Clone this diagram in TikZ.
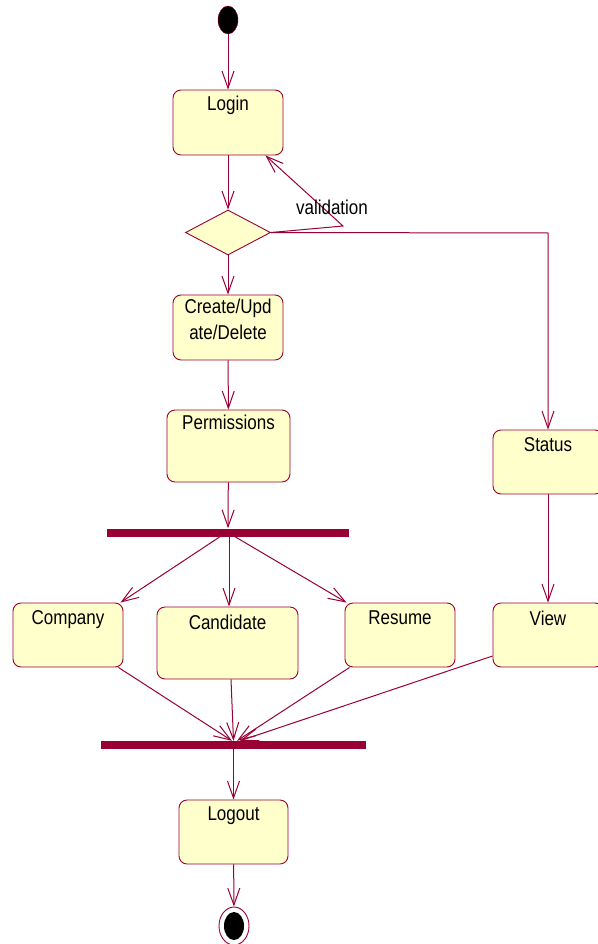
\documentclass[tikz,border=0pt]{standalone}
\usepackage{fontspec}
\setmainfont{Liberation Sans}[FakeStretch=0.85]
\usetikzlibrary{arrows.meta,shapes.geometric}
\definecolor{umlline}{HTML}{990033}
\definecolor{umlfill}{HTML}{FFFFCC}
\tikzset{
  act/.style={draw=umlline, fill=umlfill, rounded corners=8pt, line width=0.9pt, inner sep=0pt},
  lbl/.style={anchor=north, inner sep=0pt, font=\fontsize{20}{26}\selectfont, align=center},
  flow/.style={draw=umlline, line width=1pt, -{Straight Barb[length=17pt,width=12pt,line width=1pt]}},
  syncbar/.style={fill=umlline, draw=none, inner sep=0pt, minimum height=8pt},
}
\begin{document}
\begin{tikzpicture}[x=1pt,y=-1pt]
\useasboundingbox (0,0) rectangle (597,944);

% initial state
\node[ellipse, draw=umlline, fill=black, minimum width=20pt, minimum height=28pt, inner sep=0pt] (start) at (228,20) {};

% actions
\node[act, minimum width=110pt, minimum height=65pt] (login) at (228,122.5) {};
\node[lbl] (loginT) at ([yshift=-6pt]login.north) {Login};

\node[diamond, draw=umlline, fill=umlfill, line width=0.9pt, aspect=1.9, minimum width=85pt, minimum height=45pt, inner sep=0pt] (dec) at (228,232.5) {};

\node[act, minimum width=110pt, minimum height=65pt] (crud) at (228,327.5) {};
\node[lbl] (crudT) at ([yshift=-4pt]crud.north) {Create/Upd\\ate/Delete};

\node[act, minimum width=123pt, minimum height=72pt] (perm) at (228.5,446) {};
\node[lbl] (permT) at ([yshift=-5pt]perm.north) {Permissions};

\node[act, minimum width=110pt, minimum height=64pt] (status) at (548,462) {};
\node[lbl] (statusT) at ([yshift=-8pt]status.north) {Status};

\node[syncbar, minimum width=242pt] (fork) at (228,532.5) {};

\node[act, minimum width=110pt, minimum height=64pt] (company) at (68,635) {};
\node[lbl] (companyT) at ([yshift=-8pt]company.north) {Company};

\node[act, minimum width=141pt, minimum height=72pt] (cand) at (227.5,643) {};
\node[lbl] (candT) at ([yshift=-8pt]cand.north) {Candidate};

\node[act, minimum width=110pt, minimum height=64pt] (resume) at (400,635) {};
\node[lbl] (resumeT) at ([yshift=-8pt]resume.north) {Resume};

\node[act, minimum width=110pt, minimum height=64pt] (view) at (548,635) {};
\node[lbl] (viewT) at ([yshift=-8pt]view.north) {View};

\node[syncbar, minimum width=265pt] (join) at (233.5,745) {};

\node[act, minimum width=109pt, minimum height=64pt] (logout) at (233.5,832) {};
\node[lbl] (logoutT) at ([yshift=-7pt]logout.north) {Logout};

% final state
\node[ellipse, draw=umlline, fill=white, line width=0.9pt, minimum width=30pt, minimum height=38pt, inner sep=0pt] (final) at (234,926) {};
\node[ellipse, fill=black, minimum width=20pt, minimum height=28pt, inner sep=0pt] (finalIn) at (final.center) {};

% transitions
\draw[flow] (start) -- (login);
\draw[flow] (login) -- (dec);
\coordinate (vbend) at (343,226);
\draw[flow] (dec.east) -- (vbend) -- ([xshift=-18pt]login.south east);
\node[font=\fontsize{20}{22}\selectfont, inner sep=0pt] (valT) at (332,207) {validation};
\coordinate (sbend) at (548,233);
\draw[flow] (dec.east) -- (sbend) -- (status.north);
\draw[flow] (dec) -- (crud);
\draw[flow] (crud) -- (perm);
\draw[flow] (perm) -- (fork);
\draw[flow] ([xshift=-8pt]fork.south) -- ([xshift=-3pt]company.north east);
\draw[flow] ([xshift=1pt]fork.south) -- ([xshift=1.5pt]cand.north);
\draw[flow] ([xshift=7pt]fork.south) -- ([xshift=2pt]resume.north west);
\draw[flow] (status) -- (view);
\draw[flow] ([xshift=-5pt]company.south east) -- ([xshift=-1.5pt]join.north);
\draw[flow] ([xshift=3.5pt]cand.south) -- ([xshift=0pt]join.north);
\draw[flow] ([xshift=5pt]resume.south west) -- ([xshift=3.5pt]join.north);
\draw[flow] ([yshift=-21pt]view.west) -- ([xshift=6.5pt]join.north);
\draw[flow] (join) -- (logout);
\draw[flow] (logout) -- (final);
\end{tikzpicture}
\end{document}
